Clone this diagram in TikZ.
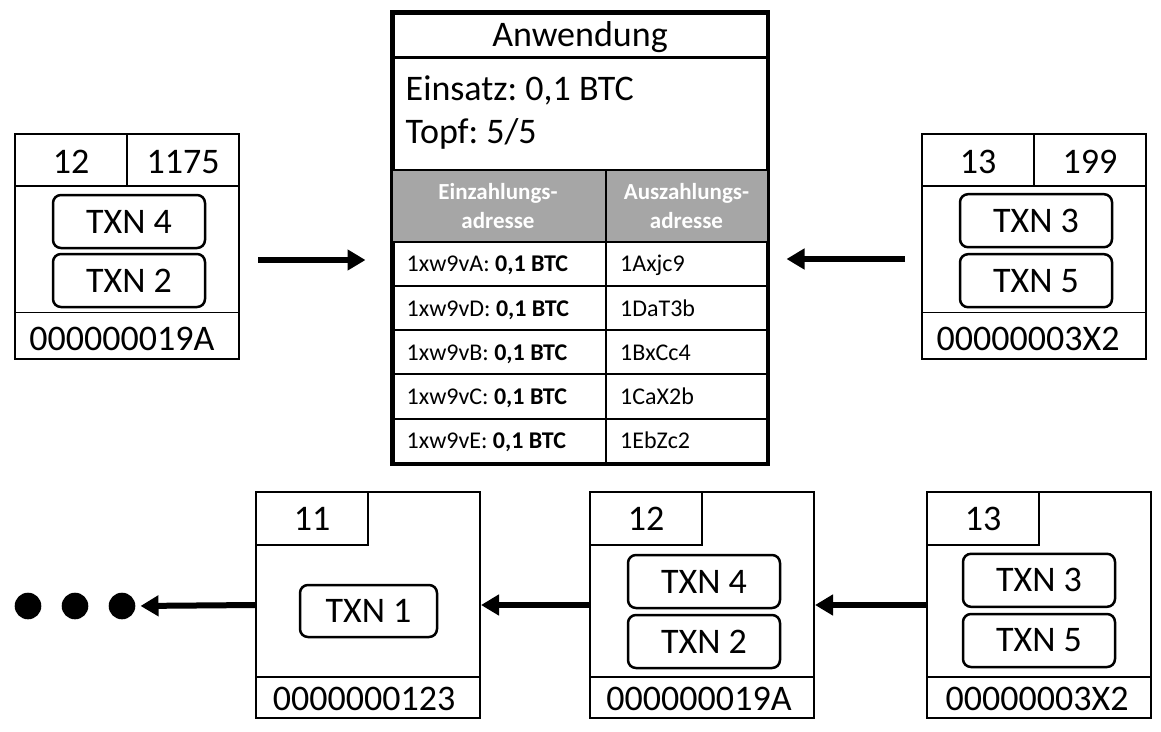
\documentclass[tikz,border=0pt]{standalone}
\usepackage{fontspec}
\setmainfont{Carlito}
\usepackage{tikz}
\usetikzlibrary{arrows.meta}
\frenchspacing
\definecolor{headgray}{HTML}{A6A6A6}
\newcommand{\bigtxt}{\fontsize{36}{43.9}\selectfont}
\newcommand{\smalltxt}{\fontsize{24}{29.3}\selectfont}
\newcommand{\headtxt}{\fontsize{23}{28.7}\selectfont\bfseries}
\tikzset{
  block/.style={draw, line width=2pt, minimum width=224pt, minimum height=225pt, inner sep=0pt},
  txn/.style={draw, rounded corners=8pt, line width=2.5pt, minimum width=152pt, minimum height=53pt, inner sep=0pt, font=\bigtxt},
  bigtext/.style={inner sep=0pt, font=\bigtxt},
  smalltext/.style={inner sep=0pt, font=\smalltxt},
  headtext/.style={inner sep=0pt, font=\headtxt, text=white, anchor=base},
  chain/.style={line width=6pt, -{Triangle[length=18pt,width=20pt]}},
  dot/.style={circle, fill, minimum size=26.6pt, inner sep=0pt},
}

\begin{document}
\begin{tikzpicture}[x=1pt,y=-1pt]
\useasboundingbox (0,0) rectangle (1161,731);

% block waiting on the left
\node[block] (tl) at (127,246.5) {};
\draw[line width=2pt] (15,186) -- (239,186) (127,134) -- (127,186);
\draw[line width=1.3pt] (15,312.7) -- (239,312.7);
\node[bigtext, anchor=base] (tlh) at (71,173) {12};
\node[bigtext, anchor=base] (tln) at (183,173) {1175};
\node[txn] (tl4) at (129,221.5) {TXN 4};
\node[txn] (tl2) at (129,280.5) {TXN 2};
\node[bigtext, anchor=base] (tlf) at (122,350) {000000019A};

% block waiting on the right
\node[block] (tr) at (1034,246.5) {};
\draw[line width=2pt] (922,186) -- (1146,186) (1034,134) -- (1034,186);
\draw[line width=1.3pt] (922,312.7) -- (1146,312.7);
\node[bigtext, anchor=base] (trh) at (978,173) {13};
\node[bigtext, anchor=base] (trn) at (1090,173) {199};
\node[txn] (tr3) at (1036,220.7) {TXN 3};
\node[txn] (tr5) at (1036,280.7) {TXN 5};
\node[bigtext, anchor=base] (trf) at (1028,350) {00000003X2};

% application in the middle
\node[draw, line width=3pt, minimum width=374pt, minimum height=450pt, inner sep=0pt] (app) at (580,238) {};
\fill[headgray] (393,170) rectangle (767,241.5);
\draw[line width=2.5pt] (393,57.7) -- (767,57.7) (393,170) -- (767,170);
\foreach \y in {241.5,285.8,330.1,374.4,418.7}
  \draw[line width=2pt] (393,\y) -- (767,\y);
\draw[line width=2pt] (606,170) -- (606,463);
\draw[line width=3pt] (app.south west) rectangle (app.north east);
\node[bigtext, anchor=base] (title) at (580,46) {Anwendung};
\node[bigtext, anchor=base west] (stake) at (405.5,100.7) {Einsatz: 0,1 BTC};
\node[bigtext, anchor=base west] (pot) at (405.5,143.3) {Topf: 5/5};
\node[headtext] (hin1) at (498,199.3) {Einzahlungs-};
\node[headtext] (hin2) at (498,228) {adresse};
\node[headtext] (hout1) at (686.5,199.3) {Auszahlungs-};
\node[headtext] (hout2) at (686.5,228) {adresse};
\foreach \k/\o [count=\i from 0] in {A/Axjc9, D/DaT3b, B/BxCc4, C/CaX2b, E/EbZc2}{
  \node[smalltext, anchor=base west] (in\i) at (406.5,271.7+44.3*\i) {1xw9v\k: \textbf{0,1 BTC}};
  \node[smalltext, anchor=base west] (out\i) at (620,271.7+44.3*\i) {1\o};
}

% arrows into the application
\coordinate (ya) at (0,260);
\coordinate (yb) at (0,259);
\draw[chain, shorten <=18pt, shorten >=26pt] (tl.east |- ya) -- (app.west |- ya);
\draw[chain, shorten <=16pt, shorten >=18pt] (tr.west |- yb) -- (app.east |- yb);

% chain below
\node[block, minimum height=226pt] (b11) at (368,605) {};
\draw[line width=2pt] (256,545) -| (368,492);
\draw[line width=1.3pt] (256,677) -- (480,677);
\node[bigtext, anchor=base] (b11h) at (312,530.7) {11};
\node[txn, minimum width=137pt, minimum height=52pt] (b11t1) at (368.5,611) {TXN 1};
\node[bigtext, anchor=base] (b11f) at (364,710) {0000000123};

\node[block, minimum height=226pt] (b12) at (702,605) {};
\draw[line width=2pt] (590,545) -| (702,492);
\draw[line width=1.3pt] (590,677) -- (814,677);
\node[bigtext, anchor=base] (b12h) at (646,530.7) {12};
\node[txn] (b12t4) at (704,581.5) {TXN 4};
\node[txn] (b12t2) at (704,641.5) {TXN 2};
\node[bigtext, anchor=base] (b12f) at (699,710) {000000019A};

\node[block, minimum height=226pt] (b13) at (1039,605) {};
\draw[line width=2pt] (927,545) -| (1039,492);
\draw[line width=1.3pt] (927,677) -- (1151,677);
\node[bigtext, anchor=base] (b13h) at (983,530.7) {13};
\node[txn] (b13t3) at (1039,580.3) {TXN 3};
\node[txn] (b13t5) at (1039,640.5) {TXN 5};
\node[bigtext, anchor=base] (b13f) at (1037,710) {00000003X2};

\node[dot] (d1) at (28,606) {};
\node[dot] (d2) at (75,606) {};
\node[dot] (d3) at (122,606) {};

\draw[chain] (b13.west) -- (b12.east);
\draw[chain] (b12.west) -- (b11.east);
\draw[chain, shorten >=5pt] (b11.west) -- (d3.east);
\end{tikzpicture}
\end{document}
